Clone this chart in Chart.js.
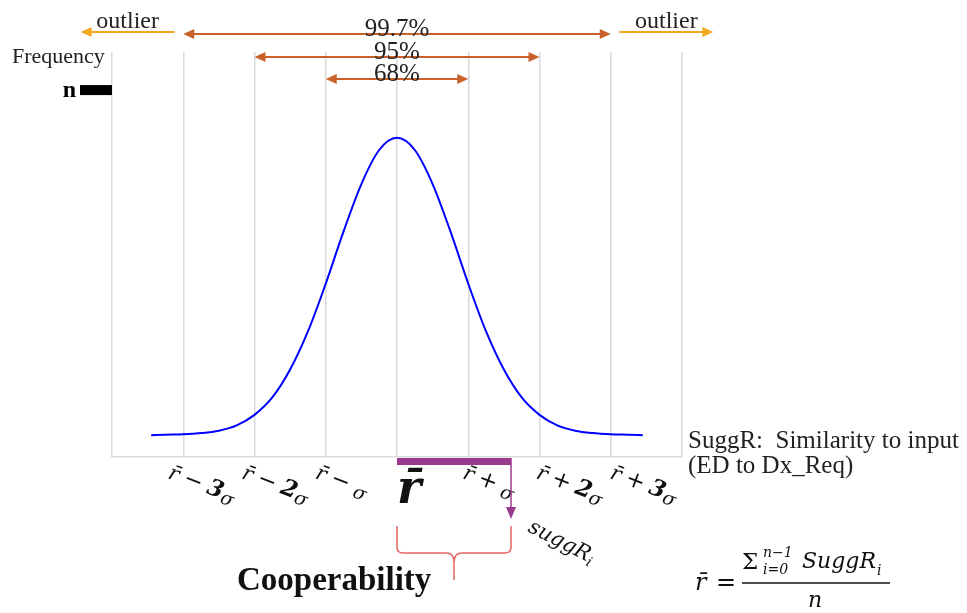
<!DOCTYPE html>
<html>
<head>
<meta charset="utf-8">
<script src="https://cdn.jsdelivr.net/npm/chart.js@4.4.1/dist/chart.umd.min.js"></script>
<style>
  html, body { margin: 0; padding: 0; background: #ffffff; }
  canvas { display: block; }
</style>
</head>
<body>
<canvas id="chart" width="967" height="613"></canvas>
<script>
// Distance from the mean similarity, in standard deviations
const sigmaSteps = [-3.45, -3.25, -3, -2.75, -2.5, -2.25, -2, -1.75, -1.5, -1.25, -1, -0.75, -0.5, -0.25, 0,
                    0.25, 0.5, 0.75, 1, 1.25, 1.5, 1.75, 2, 2.25, 2.5, 2.75, 3, 3.25, 3.45];
// Frequency of suggestions at each step (percent of the plot height)
const frequencyLevels = [5.4, 5.5, 5.6, 5.9, 6.5, 7.8, 10.4, 14.7, 21.6, 31.0, 42.8, 55.7, 67.4, 75.8, 78.8,
                         75.8, 67.4, 55.7, 42.8, 31.0, 21.6, 14.7, 10.4, 7.8, 6.5, 5.9, 5.6, 5.5, 5.4];

// x-axis ticks
const tickValues = [-3, -2, -1, 0, 1, 2, 3];
const tickLabels = ['r\u0304 \u2212 3\u03c3', 'r\u0304 \u2212 2\u03c3', 'r\u0304 \u2212 \u03c3', 'r\u0304',
                    'r\u0304 + \u03c3', 'r\u0304 + 2\u03c3', 'r\u0304 + 3\u03c3'];

// Coverage bands around the mean
const bandSpans = [1, 2, 3];
const bandLabels = ['68%', '95%', '99.7%'];

// Outlier zones beyond three sigma
const outlierFrom = 3.12;
const outlierTo = 4.44;
const outlierLabel = 'outlier';

// One suggestion's similarity, and the peak count n
const suggRi = 1.6;
const nLevel = 90.6;

const SERIF = '"Liberation Serif", "Times New Roman", serif';
const MATH = '"DejaVu Serif", serif';
const GRID = '#d9d9d9';
const BROWN = '#c8622a';
const ORANGE = '#f5a623';
const PURPLE = '#9a3a8c';
const BRACE = '#e46464';
const INK = '#111111';

function arrowHead(ctx, x, y, dir, len, half, color) {
  // dir: 'left' | 'right' | 'down'
  ctx.fillStyle = color;
  ctx.beginPath();
  if (dir === 'left') {
    ctx.moveTo(x, y); ctx.lineTo(x + len, y - half); ctx.lineTo(x + len, y + half);
  } else if (dir === 'right') {
    ctx.moveTo(x, y); ctx.lineTo(x - len, y - half); ctx.lineTo(x - len, y + half);
  } else {
    ctx.moveTo(x, y); ctx.lineTo(x - half, y - len); ctx.lineTo(x + half, y - len);
  }
  ctx.closePath();
  ctx.fill();
}

function drawRuns(ctx, x, y, angle, runs) {
  ctx.save();
  ctx.translate(x, y);
  ctx.rotate(angle);
  ctx.textAlign = 'left';
  ctx.textBaseline = 'alphabetic';
  let cx = 0;
  for (const r of runs) {
    ctx.font = r.font;
    ctx.fillText(r.text, cx, r.dy || 0);
    cx += ctx.measureText(r.text).width + (r.gap || 0);
  }
  ctx.restore();
}

const annotations = {
  id: 'annotations',
  afterDraw(chart) {
    const ctx = chart.ctx;
    const xs = chart.scales.x;
    const ys = chart.scales.y;
    const area = chart.chartArea;
    const px = v => xs.getPixelForValue(v);

    ctx.save();

    // Coverage bands: double-headed arrows with their share on top
    const bandY = [79, 57, 34];
    bandSpans.forEach((s, i) => {
      const y = bandY[i];
      const x0 = px(-s), x1 = px(s);
      ctx.strokeStyle = BROWN;
      ctx.lineWidth = 2;
      ctx.beginPath();
      ctx.moveTo(x0 + 6, y); ctx.lineTo(x1 - 6, y);
      ctx.stroke();
      arrowHead(ctx, x0, y, 'left', 11, 5, BROWN);
      arrowHead(ctx, x1, y, 'right', 11, 5, BROWN);
      ctx.fillStyle = '#222222';
      ctx.font = '25px ' + SERIF;
      ctx.textAlign = 'center';
      ctx.textBaseline = 'alphabetic';
      ctx.fillText(bandLabels[i], px(0), y + 2);
    });

    // Outlier arrows on both sides
    [-1, 1].forEach(side => {
      const y = 32;
      const xa = px(side * outlierFrom), xb = px(side * outlierTo);
      ctx.strokeStyle = ORANGE;
      ctx.lineWidth = 2;
      ctx.beginPath();
      ctx.moveTo(xa, y); ctx.lineTo(xb - side * 6, y);
      ctx.stroke();
      arrowHead(ctx, xb, y, side < 0 ? 'left' : 'right', 11, 5, ORANGE);
      ctx.fillStyle = '#222222';
      ctx.font = '24px ' + SERIF;
      ctx.textAlign = 'center';
      ctx.fillText(outlierLabel, (xa + xb) / 2, 28);
    });

    // Axis titles
    ctx.fillStyle = '#222222';
    ctx.textAlign = 'left';
    ctx.font = '22px ' + SERIF;
    ctx.fillText('Frequency', 12, 63);

    const ny = ys.getPixelForValue(nLevel);
    ctx.fillStyle = '#000000';
    ctx.fillRect(80, ny - 5, area.left - 80, 10);
    ctx.font = 'bold 24px ' + SERIF;
    ctx.textAlign = 'right';
    ctx.fillText('n', 76, ny + 7);

    ctx.textAlign = 'left';
    ctx.fillStyle = '#222222';
    ctx.font = '25px ' + SERIF;
    ctx.fillText('SuggR:  Similarity to input', 688, 448);
    ctx.fillText('(ED to Dx_Req)', 688, 473);

    // Tick labels under the axis
    ctx.fillStyle = INK;
    const angle = 21 * Math.PI / 180;
    tickValues.forEach((v, i) => {
      const label = tickLabels[i];
      const x = px(v);
      if (v === 0) {
        ctx.font = 'bold italic 46px ' + MATH;
        ctx.textAlign = 'left';
        ctx.fillText(label, x, 503);
        return;
      }
      const m = label.match(/^(\S+) (\S) (\d?)(\u03c3)$/);
      const runs = [
        { text: m[1], font: 'italic 21px ' + MATH, gap: 6 },
        { text: m[2], font: '23px ' + MATH, gap: 6 }
      ];
      if (m[3]) runs.push({ text: m[3], font: 'bold italic 23px ' + MATH, gap: 0 });
      runs.push({ text: m[4], font: 'italic 19px ' + MATH, dy: 4 });
      drawRuns(ctx, x - 9 + 2.4 * v, 478, angle, runs);
    });

    // The mean-to-suggestion bar with its drop arrow
    const m0 = px(0), m1 = px(suggRi);
    const base = area.bottom;
    ctx.fillStyle = PURPLE;
    ctx.fillRect(m0, base + 1, m1 - m0, 7);
    ctx.strokeStyle = PURPLE;
    ctx.lineWidth = 1.5;
    ctx.beginPath();
    ctx.moveTo(m1, base + 1); ctx.lineTo(m1, base + 52);
    ctx.stroke();
    arrowHead(ctx, m1, base + 62, 'down', 12, 5, PURPLE);

    ctx.fillStyle = INK;
    drawRuns(ctx, m1 + 16, 531, 27 * Math.PI / 180, [
      { text: 'suggR', font: 'italic 21px ' + MATH, gap: 0 },
      { text: 'i', font: 'italic 14px ' + MATH, dy: 4 }
    ]);

    // Brace spanning the cooperability range
    const mid = (m0 + m1) / 2;
    const top = 526, bar = 553, tip = 580;
    ctx.strokeStyle = BRACE;
    ctx.lineWidth = 1.5;
    ctx.beginPath();
    ctx.moveTo(m0, top);
    ctx.lineTo(m0, bar - 6);
    ctx.quadraticCurveTo(m0, bar, m0 + 6, bar);
    ctx.lineTo(mid - 8, bar);
    ctx.quadraticCurveTo(mid, bar, mid, bar + 9);
    ctx.lineTo(mid, tip);
    ctx.moveTo(mid, bar + 9);
    ctx.quadraticCurveTo(mid, bar, mid + 8, bar);
    ctx.lineTo(m1 - 6, bar);
    ctx.quadraticCurveTo(m1, bar, m1, bar - 6);
    ctx.lineTo(m1, top);
    ctx.stroke();

    ctx.fillStyle = INK;
    ctx.font = 'bold 33px ' + SERIF;
    ctx.textAlign = 'left';
    ctx.fillText('Cooperability', 237, 590);

    // Mean formula
    ctx.font = 'italic 24px ' + MATH;
    ctx.fillText('r\u0304', 695, 590);
    ctx.font = '24px ' + MATH;
    ctx.fillText('=', 716, 590);
    ctx.font = '23px ' + MATH;
    ctx.fillText('\u03a3', 742, 569);
    ctx.font = 'italic 14px ' + MATH;
    ctx.fillText('n\u22121', 763, 557);
    ctx.fillText('i=0', 763, 574);
    ctx.font = 'italic 22px ' + MATH;
    ctx.fillText('SuggR', 802, 568);
    ctx.font = 'italic 14px ' + MATH;
    ctx.fillText('i', 877, 575);
    ctx.strokeStyle = INK;
    ctx.lineWidth = 1.5;
    ctx.beginPath();
    ctx.moveTo(742, 583); ctx.lineTo(890, 583);
    ctx.stroke();
    ctx.font = 'italic 22px ' + MATH;
    ctx.fillText('n', 808, 607);

    ctx.restore();
  }
};

new Chart(document.getElementById('chart'), {
  type: 'scatter',
  data: {
    datasets: [{
      data: sigmaSteps.map((s, i) => ({ x: s, y: frequencyLevels[i] })),
      showLine: true,
      borderColor: '#0000ff',
      borderWidth: 2,
      pointRadius: 0,
      cubicInterpolationMode: 'monotone',
      fill: false
    }]
  },
  options: {
    responsive: false,
    animation: false,
    events: [],
    layout: { padding: { left: 112, top: 52, right: 285, bottom: 156 } },
    plugins: { legend: { display: false }, tooltip: { enabled: false } },
    scales: {
      x: {
        type: 'linear',
        min: -4,
        max: 4,
        ticks: { display: false, stepSize: 1 },
        grid: { color: GRID, lineWidth: 1.5, drawTicks: false },
        border: { color: GRID, width: 1.5 }
      },
      y: {
        type: 'linear',
        min: 0,
        max: 100,
        display: false
      }
    }
  },
  plugins: [annotations]
});
</script>
</body>
</html>
